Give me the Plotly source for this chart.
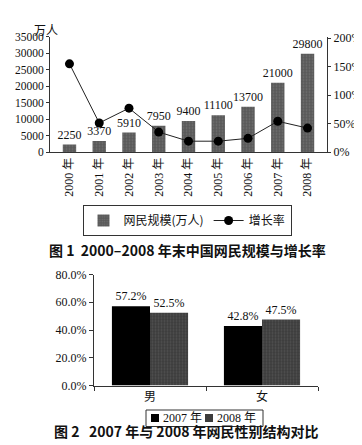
import plotly.graph_objects as go

# ---------- data ----------
years = ["2000 年", "2001 年", "2002 年", "2003 年", "2004 年", "2005 年", "2006 年", "2007 年", "2008 年"]
netizens = [2250, 3370, 5910, 7950, 9400, 11100, 13700, 21000, 29800]
growth = [155, 51, 77, 35, 19, 19, 24, 54, 42]

genders = ["男", "女"]
share_2007 = [57.2, 42.8]
share_2008 = [52.5, 47.5]
series2_names = ["2007 年", "2008 年"]
series2_colors = ["#000000", "#3c3c3c"]

W, H = 362, 445
SERIF = "Liberation Serif, Noto Sans CJK SC, serif"
NUM = "Liberation Serif, serif"
CJK = "Noto Sans CJK SC, sans-serif"

def py(px):
    return 1 - px / H

def pxx(px):
    return px / W

fig = go.Figure()

# ---------- figure 1 ----------
fig.add_trace(go.Bar(
    x=years, y=netizens, name="网民规模(万人)",
    marker=dict(color="#5a5a5a", line=dict(width=0),
                pattern=dict(shape=".", fgcolor="#8a8a8a", size=3, solidity=0.25)),
    width=0.45,
    text=[str(v) for v in netizens], textposition="outside", constraintext="none",
    textfont=dict(family=NUM, size=12, color="#111"),
    cliponaxis=False,
    xaxis="x", yaxis="y", legend="legend",
))
fig.add_trace(go.Scatter(
    x=years, y=growth, name="增长率", mode="lines+markers",
    line=dict(color="#222", width=1),
    marker=dict(color="#000", size=9),
    xaxis="x", yaxis="y2", legend="legend",
))

# ---------- figure 2 ----------
fig.add_trace(go.Bar(
    x=genders, y=share_2007, name=series2_names[0],
    marker=dict(color=series2_colors[0], line=dict(width=0)),
    text=[f"{v:.1f}%" for v in share_2007], textposition="outside", constraintext="none",
    textfont=dict(family=NUM, size=12, color="#111"),
    cliponaxis=False, showlegend=False,
    xaxis="x3", yaxis="y3",
))
fig.add_trace(go.Bar(
    x=genders, y=share_2008, name=series2_names[1],
    marker=dict(color=series2_colors[1], line=dict(width=0),
                pattern=dict(shape=".", fgcolor="#6a6a6a", size=3, solidity=0.3)),
    text=[f"{v:.1f}%" for v in share_2008], textposition="outside", constraintext="none",
    textfont=dict(family=NUM, size=12, color="#111"),
    cliponaxis=False, showlegend=False,
    xaxis="x3", yaxis="y3",
))

def axis_style(family, size=12):
    return dict(showgrid=False, zeroline=False, showline=True, linecolor="#333", linewidth=1,
                tickfont=dict(family=family, size=size, color="#111"))

# manual legend for figure 2 (box + swatches + labels)
shapes = [dict(type="rect", xref="paper", yref="paper",
               x0=pxx(138), x1=pxx(255), y0=py(418.5), y1=py(402),
               line=dict(color="#333", width=1), fillcolor="white", layer="above")]
annotations = []
leg_x = [143, 197]
for i, (nm, col) in enumerate(zip(series2_names, series2_colors)):
    x0 = leg_x[i]
    shapes.append(dict(type="rect", xref="paper", yref="paper",
                       x0=pxx(x0), x1=pxx(x0 + 8), y0=py(414), y1=py(406),
                       line=dict(width=0), fillcolor=col, layer="above"))
    annotations.append(dict(text=nm, x=pxx(x0 + 10), y=py(410), xref="paper", yref="paper",
                            xanchor="left", yanchor="middle", showarrow=False,
                            font=dict(family=SERIF, size=12, color="#111")))

annotations += [
    dict(text="万人", x=pxx(24), y=py(11), xref="paper", yref="paper",
         showarrow=False, font=dict(family=CJK, size=12, color="#111")),
    dict(text="<b>图 1  2000–2008 年末中国网民规模与增长率</b>", x=pxx(179), y=py(242),
         xref="paper", yref="paper", showarrow=False,
         font=dict(family=CJK, size=14, color="#111")),
    dict(text="<b>图 2   2007 年与 2008 年网民性别结构对比</b>", x=pxx(178), y=py(434.5),
         xref="paper", yref="paper", showarrow=False,
         font=dict(family=CJK, size=14, color="#111")),
]

fig.update_layout(
    width=W, height=H,
    margin=dict(l=0, r=0, t=0, b=0, autoexpand=False),
    paper_bgcolor="white", plot_bgcolor="white",
    barmode="group", bargap=0.32, bargroupgap=0,
    font=dict(family=SERIF, color="#111"),
    xaxis=dict(**axis_style(SERIF), domain=[pxx(42), pxx(319)], anchor="y",
               tickangle=-90, ticks="", ticklen=0),
    yaxis=dict(**axis_style(NUM, 11.5), domain=[py(144), py(28.5)], anchor="x",
               range=[0, 35000], dtick=5000, tickformat="d",
               ticks="outside", ticklen=3, tickcolor="#333"),
    yaxis2=dict(**axis_style(NUM), overlaying="y", side="right", anchor="x",
                range=[0, 203], dtick=50, ticksuffix="%", ticks="outside", ticklen=3, tickcolor="#333"),
    xaxis3=dict(**axis_style(CJK), domain=[pxx(86), pxx(310)], anchor="y3",
                ticks="outside", ticklen=4, tickson="boundaries", tickcolor="#333"),
    yaxis3=dict(**axis_style(NUM), domain=[py(377.5), py(266.5)], anchor="x3",
                range=[0, 80], dtick=20, tickformat=".1f", ticksuffix="%",
                ticks="outside", ticklen=4, tickcolor="#333"),
    legend=dict(orientation="h", x=pxx(179), xanchor="center", y=py(197), yanchor="top",
                bordercolor="#333", borderwidth=1, bgcolor="white",
                font=dict(family=CJK, size=12, color="#111"),
                itemwidth=30, tracegroupgap=0),
    shapes=shapes,
    annotations=annotations,
)

fig.write_html("out.html")
